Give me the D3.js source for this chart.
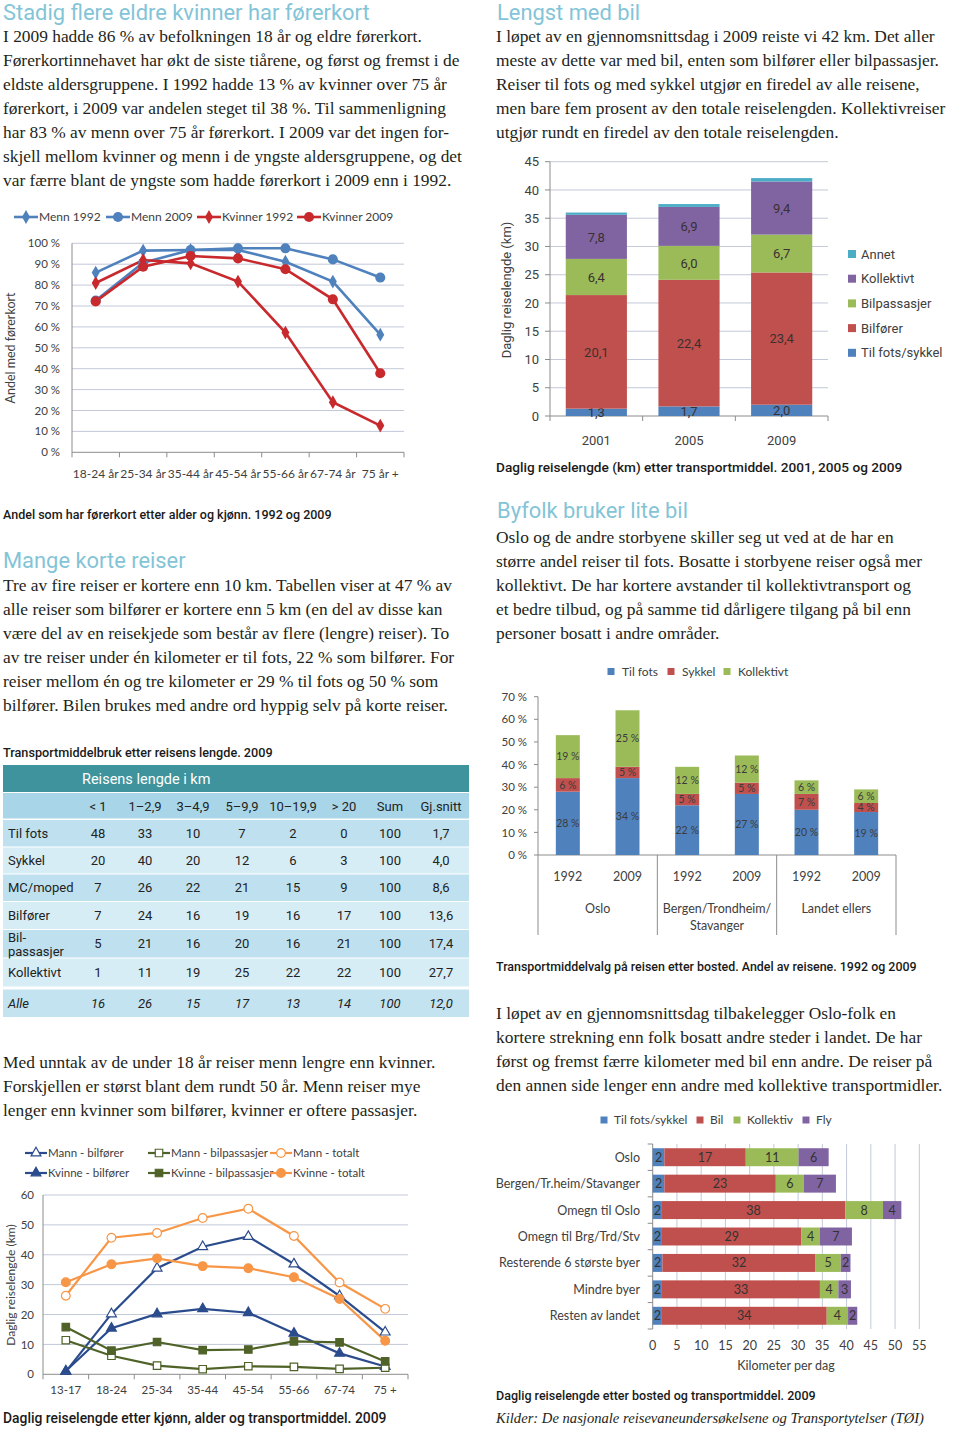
<!DOCTYPE html>
<html><head><meta charset="utf-8">
<script src="https://cdn.jsdelivr.net/npm/d3@7"></script>
<style>body{margin:0;background:#fff}svg{display:block}</style>
</head><body>
<svg id="page" width="960" height="1431"></svg>
<script>
// ---------------- DATA ----------------
// Chart 1: Andel med førerkort
const ageGroups1 = ["18-24 år","25-34 år","35-44 år","45-54 år","55-66 år","67-74 år","75 år +"];
const menn1992 = [86,96.5,96.8,96.8,91.2,81.7,56.3];
const menn2009 = [72.6,90.7,96.8,97.6,97.6,92.3,83.6];
const kvinner1992 = [81,92,90.4,81.7,57.3,24,12.8];
const kvinner2009 = [72.2,88.8,93.9,92.8,87.6,73.2,37.8];
const pctTicks1 = [0,10,20,30,40,50,60,70,80,90,100];

// Chart 2: Daglig reiselengde 2001/2005/2009
const years2 = ["2001","2005","2009"];
const modes2 = ["Til fots/sykkel","Bilfører","Bilpassasjer","Kollektivt","Annet"];
const tilFotsSykkel2 = [1.3,1.7,2.0];
const bilforer2 = [20.1,22.4,23.4];
const bilpassasjer2 = [6.4,6.0,6.7];
const kollektivt2 = [7.8,6.9,9.4];
const annet2 = [0.4,0.5,0.6];
const kmTicks2 = [0,5,10,15,20,25,30,35,40,45];

// Table
const tableCols = ["< 1","1–2,9","3–4,9","5–9,9","10–19,9","> 20","Sum","Gj.snitt"];
const tableRowLabels = ["Til fots","Sykkel","MC/moped","Bilfører","Bil-|passasjer","Kollektivt","Alle"];
const tilFotsRow = ["48","33","10","7","2","0","100","1,7"];
const sykkelRow = ["20","40","20","12","6","3","100","4,0"];
const mcRow = ["7","26","22","21","15","9","100","8,6"];
const bilforerRow = ["7","24","16","19","16","17","100","13,6"];
const bilpassRow = ["5","21","16","20","16","21","100","17,4"];
const kollektivtRow = ["1","11","19","25","22","22","100","27,7"];
const alleRow = ["16","26","15","17","13","14","100","12,0"];

// Chart 3: Transportmiddelvalg etter bosted
const places3 = ["Oslo","Bergen/Trondheim/|Stavanger","Landet ellers"];
const years3 = ["1992","2009"];
const modes3 = ["Til fots","Sykkel","Kollektivt"];
const tilFots3 = [28,34,22,27,20,19];
const sykkel3 = [6,5,5,5,7,4];
const kollektivt3 = [19,25,12,12,6,6];
const pctTicks3 = [0,10,20,30,40,50,60,70];

// Chart 4: Daglig reiselengde etter bosted
const bosted4 = ["Oslo","Bergen/Tr.heim/Stavanger","Omegn til Oslo","Omegn til Brg/Trd/Stv","Resterende 6 største byer","Mindre byer","Resten av landet"];
const modes4 = ["Til fots/sykkel","Bil","Kollektiv","Fly"];
const fotsSykkel4 = [2.4,2.4,1.9,1.9,2.0,1.9,1.9];
const bil4 = [16.8,23.0,37.8,28.8,31.6,32.6,34.0];
const kollektiv4 = [10.9,5.8,7.8,3.8,5.2,3.8,4.4];
const fly4 = [6.2,6.6,3.8,6.6,2.0,2.6,1.9];
const kmTicks4 = [0,5,10,15,20,25,30,35,40,45,50,55];

// Chart 5: Daglig reiselengde etter kjønn og alder
const ages5 = ["13-17","18-24","25-34","35-44","45-54","55-66","67-74","75 +"];
const mannBilforer = [0.9,20.2,35.5,42.7,46.1,36.9,26.2,14.1];
const kvinneBilforer = [1.1,15.4,20.2,21.9,20.6,13.7,7.0,2.6];
const mannBilpass = [11.4,6.2,2.9,1.7,2.7,2.5,1.8,2.2];
const kvinneBilpass = [15.8,7.9,10.8,8.1,8.3,11.0,10.7,4.3];
const mannTotalt = [26.3,45.7,47.3,52.3,55.4,46.3,30.7,21.9];
const kvinneTotalt = [30.8,36.8,38.8,36.2,35.5,32.5,25.2,11.2];
const kmTicks5 = [0,10,20,30,40,50,60];

// Texts
const heading1 = "Stadig flere eldre kvinner har førerkort";
const para1 = ["I 2009 hadde 86 % av befolkningen 18 år og eldre førerkort.",
"Førerkortinnehavet har økt de siste tiårene, og først og fremst i de",
"eldste aldersgruppene. I 1992 hadde 13 % av kvinner over 75 år",
"førerkort, i 2009 var andelen steget til 38 %. Til sammenligning",
"har 83 % av menn over 75 år førerkort. I 2009 var det ingen for-",
"skjell mellom kvinner og menn i de yngste aldersgruppene, og det",
"var færre blant de yngste som hadde førerkort i 2009 enn i 1992."];
const heading2 = "Lengst med bil";
const para2 = ["I løpet av en gjennomsnittsdag i 2009 reiste vi 42 km. Det aller",
"meste av dette var med bil, enten som bilfører eller bilpassasjer.",
"Reiser til fots og med sykkel utgjør en firedel av alle reisene,",
"men bare fem prosent av den totale reiselengden. Kollektivreiser",
"utgjør rundt en firedel av den totale reiselengden."];
const heading3 = "Mange korte reiser";
const para3 = ["Tre av fire reiser er kortere enn 10 km. Tabellen viser at 47 % av",
"alle reiser som bilfører er kortere enn 5 km (en del av disse kan",
"være del av en reisekjede som består av flere (lengre) reiser). To",
"av tre reiser under én kilometer er til fots, 22 % som bilfører. For",
"reiser mellom én og tre kilometer er 29 % til fots og 50 % som",
"bilfører. Bilen brukes med andre ord hyppig selv på korte reiser."];
const para4 = ["Med unntak av de under 18 år reiser menn lengre enn kvinner.",
"Forskjellen er størst blant dem rundt 50 år. Menn reiser mye",
"lenger enn kvinner som bilfører, kvinner er oftere passasjer."];
const heading5 = "Byfolk bruker lite bil";
const para5 = ["Oslo og de andre storbyene skiller seg ut ved at de har en",
"større andel reiser til fots. Bosatte i storbyene reiser også mer",
"kollektivt. De har kortere avstander til kollektivtransport og",
"et bedre tilbud, og på samme tid dårligere tilgang på bil enn",
"personer bosatt i andre områder."];
const para6 = ["I løpet av en gjennomsnittsdag tilbakelegger Oslo-folk en",
"kortere strekning enn folk bosatt andre steder i landet. De har",
"først og fremst færre kilometer med bil enn andre. De reiser på",
"den annen side lenger enn andre med kollektive transportmidler."];

// ---------------- STYLE ----------------
const svg = d3.select("#page");
const SERIF = "'Liberation Serif','DejaVu Serif',serif";
const DIN = "Roboto,'Noto Sans',sans-serif";
const CAL = "Lato,'Open Sans',sans-serif";
const HEAD = "#83c4d7";
const INK = "#231f20";
const TICK = "#404040";
const GRID = "#c3c9d9";
const AXIS = "#8c8c8c";
const BLUE = "#4f81bd", RED = "#c0504d", GREEN = "#9bbb59", PURPLE = "#8064a2", CYAN = "#4bacc6";
const LRED = "#c8292d", LBLUE = "#4f81bd";
const comma = v => d3.format(".1f")(v).replace(".", ",");

function fit(t, w){ const cur = t.node().getComputedTextLength(); const fs = +t.attr("font-size"); t.attr("font-size", fs*w/cur); return fs*w/cur; }

// body font size
const probe = svg.append("text").attr("font-family",SERIF).attr("font-size",17).text(para1[1]);
const BODY = fit(probe, 457); probe.remove();
const probeH = svg.append("text").attr("font-family",DIN).attr("font-size",18).text(heading1);
const HSIZE = fit(probeH, 367); probeH.remove();

function para(lines, x, y0){
  lines.forEach((l,i)=> svg.append("text").attr("x",x).attr("y",y0+i*24)
    .attr("font-family",SERIF).attr("font-size",BODY).attr("fill",INK).text(l));
}
function heading(txt, x, y){
  svg.append("text").attr("x",x).attr("y",y).attr("font-family",DIN).attr("font-size",HSIZE)
    .attr("fill",HEAD).text(txt);
}
function caption(txt, x, y, w){
  const t = svg.append("text").attr("x",x).attr("y",y).attr("font-family",DIN).attr("font-size",12)
    .attr("font-weight",500).attr("fill","#1a1a1a").text(txt);
  fit(t, w);
}

heading(heading1, 3, 20); para(para1, 3, 42);
heading(heading2, 497, 20); para(para2, 496, 42);
heading(heading3, 3, 568); para(para3, 3, 591);
para(para4, 3, 1068);
heading(heading5, 497, 518); para(para5, 496, 543);
para(para6, 496, 1019);

caption("Andel som har førerkort etter alder og kjønn. 1992 og 2009", 3, 519, 329);
caption("Daglig reiselengde (km) etter transportmiddel. 2001, 2005 og 2009", 496, 472, 407);
caption("Transportmiddelbruk etter reisens lengde. 2009", 3, 757, 270);
caption("Daglig reiselengde etter kjønn, alder og transportmiddel. 2009", 3, 1423, 384);
caption("Transportmiddelvalg på reisen etter bosted. Andel av reisene. 1992 og 2009", 496, 971, 421);
caption("Daglig reiselengde etter bosted og transportmiddel. 2009", 496, 1400, 320);
{
  const t = svg.append("text").attr("x",496).attr("y",1423).attr("font-family",SERIF)
    .attr("font-style","italic").attr("font-size",16).attr("fill",INK)
    .text("Kilder: De nasjonale reisevaneundersøkelsene og Transportytelser (TØI)");
  fit(t, 428);
}

// ---------------- CHART 1 ----------------
{
  const g = svg.append("g");
  const x = d3.scaleBand().domain(ageGroups1).range([72,404]);
  const y = d3.scaleLinear().domain([0,100]).range([452.3,243.3]);
  g.selectAll(".grid").data(pctTicks1.filter(d=>d>0)).join("line")
    .attr("x1",72).attr("x2",404).attr("y1",d=>y(d)).attr("y2",d=>y(d)).attr("stroke",GRID);
  g.append("line").attr("x1",72).attr("x2",72).attr("y1",y(100)).attr("y2",y(0)).attr("stroke",AXIS);
  g.append("line").attr("x1",72).attr("x2",404).attr("y1",y(0)).attr("y2",y(0)).attr("stroke",AXIS);
  const bounds = ageGroups1.map(d=>x(d)).concat([404]);
  g.selectAll(".xt").data(bounds).join("line").attr("x1",d=>d).attr("x2",d=>d)
    .attr("y1",y(0)).attr("y2",y(0)+5).attr("stroke",AXIS);
  g.selectAll(".yl").data(pctTicks1).join("text").attr("x",60).attr("y",d=>y(d)).attr("dy","0.35em")
    .attr("text-anchor","end").attr("font-family",CAL).attr("font-size",11.5).attr("fill",TICK)
    .text(d=>d+" %");
  g.selectAll(".xl").data(ageGroups1).join("text").attr("x",d=>x(d)+x.bandwidth()/2).attr("y",478)
    .attr("text-anchor","middle").attr("font-family",CAL).attr("font-size",12).attr("fill",TICK).text(d=>d);
  g.append("text").attr("transform","translate(15,348) rotate(-90)").attr("text-anchor","middle")
    .attr("font-family",CAL).attr("font-size",12.5).attr("fill",TICK).text("Andel med førerkort");
  const series = [
    {name:"Menn 1992", vals:menn1992, color:LBLUE, sym:d3.symbolDiamond, size:55},
    {name:"Menn 2009", vals:menn2009, color:LBLUE, sym:d3.symbolCircle, size:80},
    {name:"Kvinner 1992", vals:kvinner1992, color:LRED, sym:d3.symbolDiamond, size:55},
    {name:"Kvinner 2009", vals:kvinner2009, color:LRED, sym:d3.symbolCircle, size:80}
  ];
  const line = d3.line().x((d,i)=>x(ageGroups1[i])+x.bandwidth()/2).y(d=>y(d));
  series.forEach(s=>{
    g.append("path").attr("d",line(s.vals)).attr("fill","none").attr("stroke",s.color).attr("stroke-width",2.6);
  });
  series.forEach(s=>{
    g.selectAll(null).data(s.vals).join("path")
      .attr("transform",(d,i)=>`translate(${x(ageGroups1[i])+x.bandwidth()/2},${y(d)})`)
      .attr("d",d3.symbol().type(s.sym).size(s.size)).attr("fill",s.color);
  });
  const lx = [14,106,197,297];
  series.forEach((s,i)=>{
    g.append("line").attr("x1",lx[i]).attr("x2",lx[i]+24).attr("y1",217).attr("y2",217).attr("stroke",s.color).attr("stroke-width",2.6);
    g.append("path").attr("transform",`translate(${lx[i]+12},217)`).attr("d",d3.symbol().type(s.sym).size(s.size)).attr("fill",s.color);
    g.append("text").attr("x",lx[i]+25).attr("y",217).attr("dy","0.35em").attr("font-family",CAL)
      .attr("font-size",12).attr("fill",TICK).text(s.name);
  });
}

// ---------------- CHART 2 ----------------
{
  const g = svg.append("g");
  const x = d3.scaleBand().domain(years2).range([550,828]);
  const y = d3.scaleLinear().domain([0,45]).range([416,161.7]);
  const rows = years2.map((yr,i)=>({year:yr,"Til fots/sykkel":tilFotsSykkel2[i],"Bilfører":bilforer2[i],
    "Bilpassasjer":bilpassasjer2[i],"Kollektivt":kollektivt2[i],"Annet":annet2[i]}));
  const stack = d3.stack().keys(modes2)(rows);
  const colors = {"Til fots/sykkel":BLUE,"Bilfører":RED,"Bilpassasjer":GREEN,"Kollektivt":PURPLE,"Annet":CYAN};
  g.selectAll(".grid").data(kmTicks2.filter(d=>d>0)).join("line")
    .attr("x1",550).attr("x2",828).attr("y1",d=>y(d)).attr("y2",d=>y(d)).attr("stroke",GRID);
  g.append("line").attr("x1",550).attr("x2",550).attr("y1",y(45)).attr("y2",y(0)).attr("stroke",AXIS);
  g.selectAll(".yt").data(kmTicks2).join("line").attr("x1",545).attr("x2",550).attr("y1",d=>y(d)).attr("y2",d=>y(d)).attr("stroke",AXIS);
  g.append("line").attr("x1",550).attr("x2",828).attr("y1",y(0)).attr("y2",y(0)).attr("stroke",AXIS);
  const bounds = years2.map(d=>x(d)).concat([828]);
  g.selectAll(".xt").data(bounds).join("line").attr("x1",d=>d).attr("x2",d=>d).attr("y1",y(0)).attr("y2",y(0)+5).attr("stroke",AXIS);
  const bw = x.bandwidth()*0.66, off = (x.bandwidth()-bw)/2;
  stack.forEach(layer=>{
    g.selectAll(null).data(layer).join("rect").attr("x",d=>x(d.data.year)+off).attr("width",bw)
      .attr("y",d=>y(d[1])).attr("height",d=>y(d[0])-y(d[1])).attr("fill",colors[layer.key]);
    if(layer.key!=="Annet"){
      g.selectAll(null).data(layer).join("text").attr("x",d=>x(d.data.year)+x.bandwidth()/2)
        .attr("y",d=>y((d[0]+d[1])/2)).attr("dy","0.36em").attr("text-anchor","middle")
        .attr("font-family",DIN).attr("font-size",13).attr("fill","#3a3030").text(d=>comma(d[1]-d[0]));
    }
  });
  g.selectAll(".yl").data(kmTicks2).join("text").attr("x",539).attr("y",d=>y(d)).attr("dy","0.36em")
    .attr("text-anchor","end").attr("font-family",DIN).attr("font-size",13).attr("fill",TICK).text(d=>d);
  g.selectAll(".xl").data(years2).join("text").attr("x",d=>x(d)+x.bandwidth()/2).attr("y",445)
    .attr("text-anchor","middle").attr("font-family",DIN).attr("font-size",13).attr("fill",TICK).text(d=>d);
  g.append("text").attr("transform","translate(511,290) rotate(-90)").attr("text-anchor","middle")
    .attr("font-family",DIN).attr("font-size",13).attr("fill",TICK).text("Daglig reiselengde (km)");
  const legend = modes2.slice().reverse();
  legend.forEach((m,i)=>{
    const cy = 254 + i*24.7;
    g.append("rect").attr("x",848).attr("y",cy-4).attr("width",8).attr("height",8).attr("fill",colors[m]);
    g.append("text").attr("x",861).attr("y",cy).attr("dy","0.36em").attr("font-family",DIN)
      .attr("font-size",13).attr("fill",TICK).text(m);
  });
}

// ---------------- TABLE ----------------
{
  const g = svg.append("g");
  const X0 = 3, W = 466;
  g.append("rect").attr("x",X0).attr("y",765).attr("width",W).attr("height",27).attr("fill","#3e939d");
  g.append("rect").attr("x",X0).attr("y",793).attr("width",W).attr("height",25.5).attr("fill","#a8d6e8");
  g.append("text").attr("x",82).attr("y",783.5).attr("font-family",DIN).attr("font-size",14.5)
    .attr("fill","#ffffff").text("Reisens lengde i km");
  const colX = [98,145,193,242,293,344,390,441];
  g.selectAll(".ch").data(tableCols).join("text").attr("x",(d,i)=>colX[i]).attr("y",810.5)
    .attr("text-anchor","middle").attr("font-family",DIN).attr("font-size",13).attr("fill","#222").text(d=>d);
  const rows = [tilFotsRow,sykkelRow,mcRow,bilforerRow,bilpassRow,kollektivtRow,alleRow];
  const tops = [820,847.5,874.5,902,930,958.5,989.5];
  const bottoms = [846.5,873.5,901,929,957.5,986.5,1017];
  const fills = ["#bfe1ef","#d7edf6","#bfe1ef","#d7edf6","#bfe1ef","#d7edf6","#c4e3f0"];
  rows.forEach((r,i)=>{
    const cy = (tops[i]+bottoms[i])/2;
    const italic = i===6 ? "italic" : "normal";
    g.append("rect").attr("x",X0).attr("y",tops[i]).attr("width",W).attr("height",bottoms[i]-tops[i]).attr("fill",fills[i]);
    const lab = tableRowLabels[i].split("|");
    if(lab.length===1){
      g.append("text").attr("x",8).attr("y",cy).attr("dy","0.36em").attr("font-family",DIN).attr("font-size",13)
        .attr("font-style",italic).attr("fill","#222").text(lab[0]);
    } else {
      g.append("text").attr("x",8).attr("y",941.5).attr("font-family",DIN).attr("font-size",13).attr("fill","#222").text(lab[0]);
      g.append("text").attr("x",8).attr("y",956).attr("font-family",DIN).attr("font-size",13).attr("fill","#222").text(lab[1]);
    }
    g.selectAll(null).data(r).join("text").attr("x",(d,j)=>colX[j]).attr("y",cy).attr("dy","0.36em")
      .attr("text-anchor","middle").attr("font-family",DIN).attr("font-size",13).attr("font-style",italic)
      .attr("fill","#222").text(d=>d);
  });
}

// ---------------- CHART 3 ----------------
{
  const g = svg.append("g");
  const idx = d3.range(6);
  const x = d3.scaleBand().domain(idx).range([538,896]);
  const y = d3.scaleLinear().domain([0,70]).range([855,696.7]);
  const rows = idx.map(i=>({i, "Til fots":tilFots3[i], "Sykkel":sykkel3[i], "Kollektivt":kollektivt3[i]}));
  const stack = d3.stack().keys(modes3)(rows);
  const colors = {"Til fots":BLUE,"Sykkel":RED,"Kollektivt":GREEN};
  g.append("line").attr("x1",538).attr("x2",538).attr("y1",y(70)).attr("y2",935).attr("stroke",AXIS);
  g.selectAll(".yt").data(pctTicks3).join("line").attr("x1",534).attr("x2",538).attr("y1",d=>y(d)).attr("y2",d=>y(d)).attr("stroke",AXIS);
  g.append("line").attr("x1",538).attr("x2",896).attr("y1",y(0)).attr("y2",y(0)).attr("stroke",AXIS);
  [2,4].forEach(k=>g.append("line").attr("x1",x(k)).attr("x2",x(k)).attr("y1",y(0)).attr("y2",935).attr("stroke",AXIS));
  g.append("line").attr("x1",896).attr("x2",896).attr("y1",y(0)).attr("y2",935).attr("stroke",AXIS);
  const bw = 24, off = (x.bandwidth()-bw)/2;
  stack.forEach(layer=>{
    g.selectAll(null).data(layer).join("rect").attr("x",d=>x(d.data.i)+off).attr("width",bw)
      .attr("y",d=>y(d[1])).attr("height",d=>y(d[0])-y(d[1])).attr("fill",colors[layer.key]);
    g.selectAll(null).data(layer).join("text").attr("x",d=>x(d.data.i)+x.bandwidth()/2)
      .attr("y",d=>y((d[0]+d[1])/2)).attr("dy","0.36em").attr("text-anchor","middle")
      .attr("font-family",CAL).attr("font-size",10.5).attr("fill","#3c3c3c").text(d=>(d[1]-d[0])+" %");
  });
  g.selectAll(".yl").data(pctTicks3).join("text").attr("x",527).attr("y",d=>y(d)).attr("dy","0.36em")
    .attr("text-anchor","end").attr("font-family",CAL).attr("font-size",11.5).attr("fill",TICK).text(d=>d+" %");
  g.selectAll(".xl").data(idx).join("text").attr("x",d=>x(d)+x.bandwidth()/2).attr("y",881)
    .attr("text-anchor","middle").attr("font-family",CAL).attr("font-size",12.5).attr("fill",TICK).text(d=>years3[d%2]);
  places3.forEach((p,k)=>{
    const cx = (x(2*k)+x(2*k+1)+x.bandwidth())/2;
    p.split("|").forEach((part,j)=>{
      g.append("text").attr("x",cx).attr("y",913+j*17).attr("text-anchor","middle").attr("font-family",CAL)
        .attr("font-size",12.5).attr("fill",TICK).text(part);
    });
  });
  const lx = [611,671,727];
  modes3.forEach((m,i)=>{
    g.append("rect").attr("x",lx[i]-3.5).attr("y",668).attr("width",7).attr("height",7).attr("fill",colors[m]);
    g.append("text").attr("x",lx[i]+11).attr("y",671.7).attr("dy","0.36em").attr("font-family",CAL)
      .attr("font-size",12).attr("fill",TICK).text(m);
  });
}

// ---------------- CHART 4 ----------------
{
  const g = svg.append("g");
  const x = d3.scaleLinear().domain([0,55]).range([652.7,919.3]);
  const y = d3.scaleBand().domain(bosted4).range([1144,1329]);
  const rows = bosted4.map((b,i)=>({b, "Til fots/sykkel":fotsSykkel4[i], "Bil":bil4[i], "Kollektiv":kollektiv4[i], "Fly":fly4[i]}));
  const stack = d3.stack().keys(modes4)(rows);
  const colors = {"Til fots/sykkel":BLUE,"Bil":RED,"Kollektiv":GREEN,"Fly":PURPLE};
  g.selectAll(".grid").data(kmTicks4.filter(d=>d>0)).join("line").attr("x1",d=>x(d)).attr("x2",d=>x(d))
    .attr("y1",1144).attr("y2",1329).attr("stroke",GRID);
  g.append("line").attr("x1",x(0)).attr("x2",x(0)).attr("y1",1144).attr("y2",1329).attr("stroke",AXIS);
  const bounds = bosted4.map(d=>y(d)).concat([1329]);
  g.selectAll(".yt").data(bounds).join("line").attr("x1",x(0)-5).attr("x2",x(0)).attr("y1",d=>d).attr("y2",d=>d).attr("stroke",AXIS);
  const bh = y.bandwidth()*0.68, off = (y.bandwidth()-bh)/2;
  stack.forEach(layer=>{
    g.selectAll(null).data(layer).join("rect").attr("y",d=>y(d.data.b)+off).attr("height",bh)
      .attr("x",d=>x(d[0])).attr("width",d=>x(d[1])-x(d[0])).attr("fill",colors[layer.key]);
    g.selectAll(null).data(layer).join("text").attr("y",d=>y(d.data.b)+y.bandwidth()/2).attr("dy","0.36em")
      .attr("x",d=>x((d[0]+d[1])/2)).attr("text-anchor","middle").attr("font-family",CAL)
      .attr("font-size",12.5).attr("fill","#333").text(d=>Math.round(d[1]-d[0]));
  });
  g.selectAll(".yl").data(bosted4).join("text").attr("x",640).attr("y",d=>y(d)+y.bandwidth()/2).attr("dy","0.36em")
    .attr("text-anchor","end").attr("font-family",CAL).attr("font-size",12.5).attr("fill",TICK).text(d=>d);
  g.selectAll(".xl").data(kmTicks4).join("text").attr("x",d=>x(d)).attr("y",1350)
    .attr("text-anchor","middle").attr("font-family",CAL).attr("font-size",12.5).attr("fill",TICK).text(d=>d);
  g.append("text").attr("x",786).attr("y",1370).attr("text-anchor","middle").attr("font-family",CAL)
    .attr("font-size",12.5).attr("fill",TICK).text("Kilometer per dag");
  const lx = [604,700,737,806];
  modes4.forEach((m,i)=>{
    g.append("rect").attr("x",lx[i]-3.5).attr("y",1116.5).attr("width",7).attr("height",7).attr("fill",colors[m]);
    g.append("text").attr("x",lx[i]+10).attr("y",1120).attr("dy","0.36em").attr("font-family",CAL)
      .attr("font-size",12).attr("fill",TICK).text(m);
  });
}

// ---------------- CHART 5 ----------------
{
  const g = svg.append("g");
  const x = d3.scaleBand().domain(ages5).range([43,408]);
  const y = d3.scaleLinear().domain([0,60]).range([1374.3,1195]);
  g.selectAll(".grid").data(kmTicks5.filter(d=>d>0)).join("line")
    .attr("x1",43).attr("x2",408).attr("y1",d=>y(d)).attr("y2",d=>y(d)).attr("stroke",GRID);
  g.append("line").attr("x1",43).attr("x2",43).attr("y1",y(60)).attr("y2",y(0)).attr("stroke",AXIS);
  g.append("line").attr("x1",43).attr("x2",408).attr("y1",y(0)).attr("y2",y(0)).attr("stroke",AXIS);
  const bounds = ages5.map(d=>x(d)).concat([408]);
  g.selectAll(".xt").data(bounds).join("line").attr("x1",d=>d).attr("x2",d=>d).attr("y1",y(0)).attr("y2",y(0)+5).attr("stroke",AXIS);
  g.selectAll(".yl").data(kmTicks5).join("text").attr("x",34).attr("y",d=>y(d)).attr("dy","0.36em")
    .attr("text-anchor","end").attr("font-family",CAL).attr("font-size",11.5).attr("fill",TICK).text(d=>d);
  g.selectAll(".xl").data(ages5).join("text").attr("x",d=>x(d)+x.bandwidth()/2).attr("y",1394)
    .attr("text-anchor","middle").attr("font-family",CAL).attr("font-size",11.5).attr("fill",TICK).text(d=>d);
  g.append("text").attr("transform","translate(15,1285) rotate(-90)").attr("text-anchor","middle")
    .attr("font-family",CAL).attr("font-size",12).attr("fill",TICK).text("Daglig reiselengde (km)");
  const NAVY = "#2b4c8c", OLIVE = "#4f6228", ORANGE = "#f79646";
  const series = [
    {name:"Mann - bilfører", vals:mannBilforer, color:NAVY, sym:d3.symbolTriangle, size:42, open:true},
    {name:"Kvinne - bilfører", vals:kvinneBilforer, color:NAVY, sym:d3.symbolTriangle, size:42, open:false},
    {name:"Mann - bilpassasjer", vals:mannBilpass, color:OLIVE, sym:d3.symbolSquare, size:56, open:true},
    {name:"Kvinne - bilpassasjer", vals:kvinneBilpass, color:OLIVE, sym:d3.symbolSquare, size:56, open:false},
    {name:"Mann - totalt", vals:mannTotalt, color:ORANGE, sym:d3.symbolCircle, size:60, open:true},
    {name:"Kvinne - totalt", vals:kvinneTotalt, color:ORANGE, sym:d3.symbolCircle, size:60, open:false}
  ];
  const line = d3.line().x((d,i)=>x(ages5[i])+x.bandwidth()/2).y(d=>y(d));
  series.forEach(s=>g.append("path").attr("d",line(s.vals)).attr("fill","none").attr("stroke",s.color).attr("stroke-width",2.2));
  series.forEach(s=>{
    g.selectAll(null).data(s.vals).join("path")
      .attr("transform",(d,i)=>`translate(${x(ages5[i])+x.bandwidth()/2},${y(d)})`)
      .attr("d",d3.symbol().type(s.sym).size(s.size)).attr("fill",s.open?"#fff":s.color)
      .attr("stroke",s.color).attr("stroke-width",1.2);
  });
  const lx = [25,148,270], ly = [1153,1173];
  series.forEach((s,i)=>{
    const cx = lx[Math.floor(i/2)], cy = ly[i%2];
    g.append("line").attr("x1",cx).attr("x2",cx+22).attr("y1",cy).attr("y2",cy).attr("stroke",s.color).attr("stroke-width",2.2);
    g.append("path").attr("transform",`translate(${cx+11},${cy})`).attr("d",d3.symbol().type(s.sym).size(s.size))
      .attr("fill",s.open?"#fff":s.color).attr("stroke",s.color).attr("stroke-width",1.2);
    g.append("text").attr("x",cx+23).attr("y",cy).attr("dy","0.36em").attr("font-family",CAL)
      .attr("font-size",11.5).attr("fill",TICK).text(s.name);
  });
}
</script>
</body></html>
